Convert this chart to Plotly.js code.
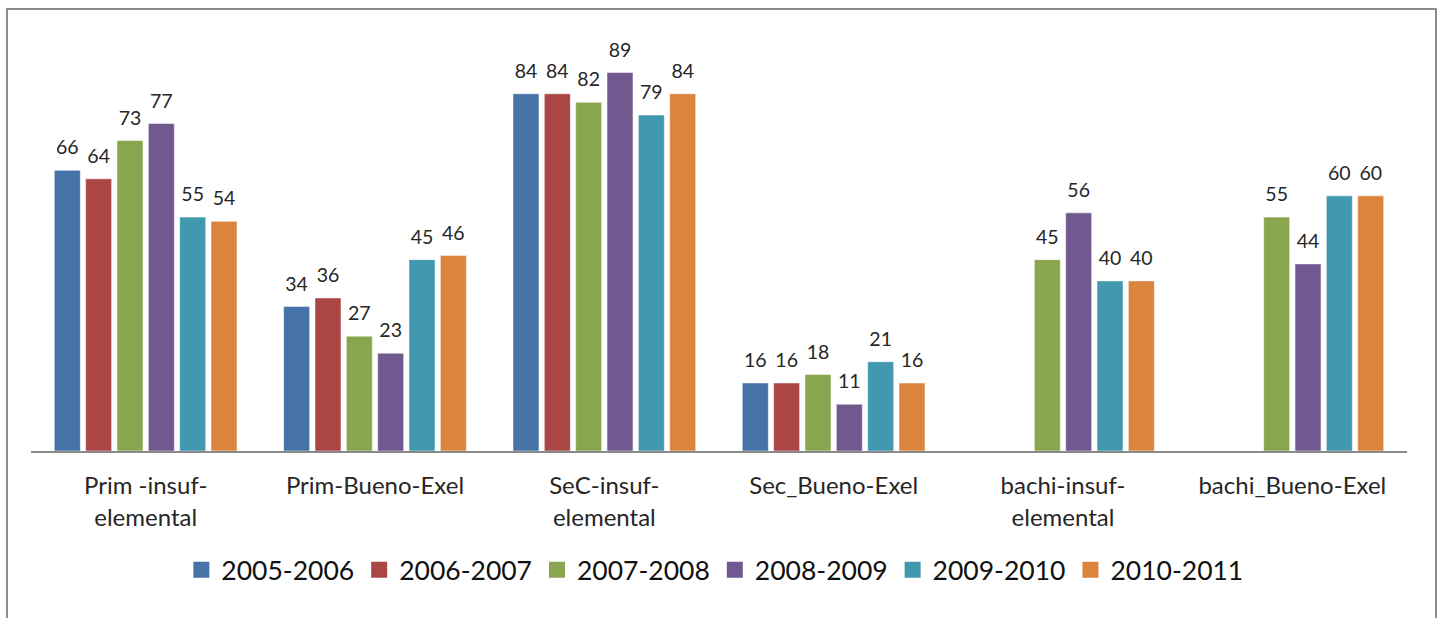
<!DOCTYPE html>
<html>
<head>
<meta charset="utf-8">
<script src="https://cdn.plot.ly/plotly-3.0.1.min.js"></script>
<style>
  html, body { margin: 0; padding: 0; background: #fff; }
  #frame { position: absolute; left: 6px; top: 8px; width: 1431px; height: 640px; border: 2px solid #8c8c8c; border-bottom: none; box-sizing: border-box; pointer-events: none; z-index: 5; }
  #chart { position: absolute; left: 0; top: 0; width: 1441px; height: 618px; }
</style>
</head>
<body>
<div id="chart"></div>
<div id="frame"></div>
<script>
const categories = ["Prim -insuf-<br>elemental", "Prim-Bueno-Exel", "SeC-insuf-<br>elemental", "Sec_Bueno-Exel", "bachi-insuf-<br>elemental", "bachi_Bueno-Exel"];
const seriesNames = ["2005-2006", "2006-2007", "2007-2008", "2008-2009", "2009-2010", "2010-2011"];
const s2005 = [66, 34, 84, 16, null, null];
const s2006 = [64, 36, 84, 16, null, null];
const s2007 = [73, 27, 82, 18, 45, 55];
const s2008 = [77, 23, 89, 11, 56, 44];
const s2009 = [55, 45, 79, 21, 40, 60];
const s2010 = [54, 46, 84, 16, 40, 60];
const seriesValues = [s2005, s2006, s2007, s2008, s2009, s2010];
const colors = ["#4572A7", "#AA4643", "#89A54E", "#71588F", "#4198AF", "#DB843D"];

const font = "Lato, 'Open Sans', sans-serif";
const GAP = 0.18;

const barTraces = seriesNames.map((name, i) => ({
  type: "bar",
  name: name,
  x: categories,
  y: seriesValues[i],
  marker: { color: colors[i], line: { color: "rgba(255,255,255,0.5)", width: 1 } },
  showlegend: false,
  hoverinfo: "skip"
}));

const labelTraces = seriesNames.map((name, i) => ({
  type: "scatter",
  mode: "markers+text",
  name: name + " labels",
  x: categories,
  y: seriesValues[i],
  text: seriesValues[i].map(v => v === null ? "" : String(v)),
  textposition: "top center",
  textfont: { family: font, size: 19.5, color: "#262626" },
  marker: { size: 16, color: "rgba(0,0,0,0)" },
  cliponaxis: false,
  showlegend: false,
  hoverinfo: "skip"
}));

const legendTraces = seriesNames.map((name, i) => ({
  type: "scatter",
  mode: "markers",
  name: name,
  x: [null],
  y: [null],
  xaxis: "x2",
  yaxis: "y2",
  marker: { symbol: "square", size: 16, color: colors[i] },
  showlegend: true,
  hoverinfo: "skip"
}));

const layout = {
  width: 1441,
  height: 618,
  margin: { l: 31, r: 34, t: 30, b: 167 },
  paper_bgcolor: "#fff",
  plot_bgcolor: "#fff",
  barmode: "group",
  bargap: GAP,
  bargroupgap: 0.17,
  scattermode: "group",
  scattergap: GAP,
  showlegend: true,
  legend: {
    orientation: "h",
    x: 0.497, xanchor: "center",
    y: -0.283, yanchor: "middle",
    font: { family: font, size: 26.5, color: "#111" },
    itemwidth: 30,
    traceorder: "normal"
  },
  xaxis: {
    type: "category",
    showline: true,
    linecolor: "#8a8a8a",
    linewidth: 1.5,
    showgrid: false,
    ticks: "",
    tickfont: { family: font, size: 24, color: "#262626" },
    ticklabelstandoff: 13,
    fixedrange: true
  },
  yaxis: {
    range: [0, 99],
    visible: false,
    showgrid: false,
    zeroline: false,
    fixedrange: true
  },
  xaxis2: { overlaying: "x", visible: false, range: [0, 1] },
  yaxis2: { overlaying: "y", visible: false, range: [0, 1] },
  font: { family: font }
};

Plotly.newPlot("chart", [...barTraces, ...labelTraces, ...legendTraces], layout, { displayModeBar: false, staticPlot: true });
</script>
</body>
</html>
